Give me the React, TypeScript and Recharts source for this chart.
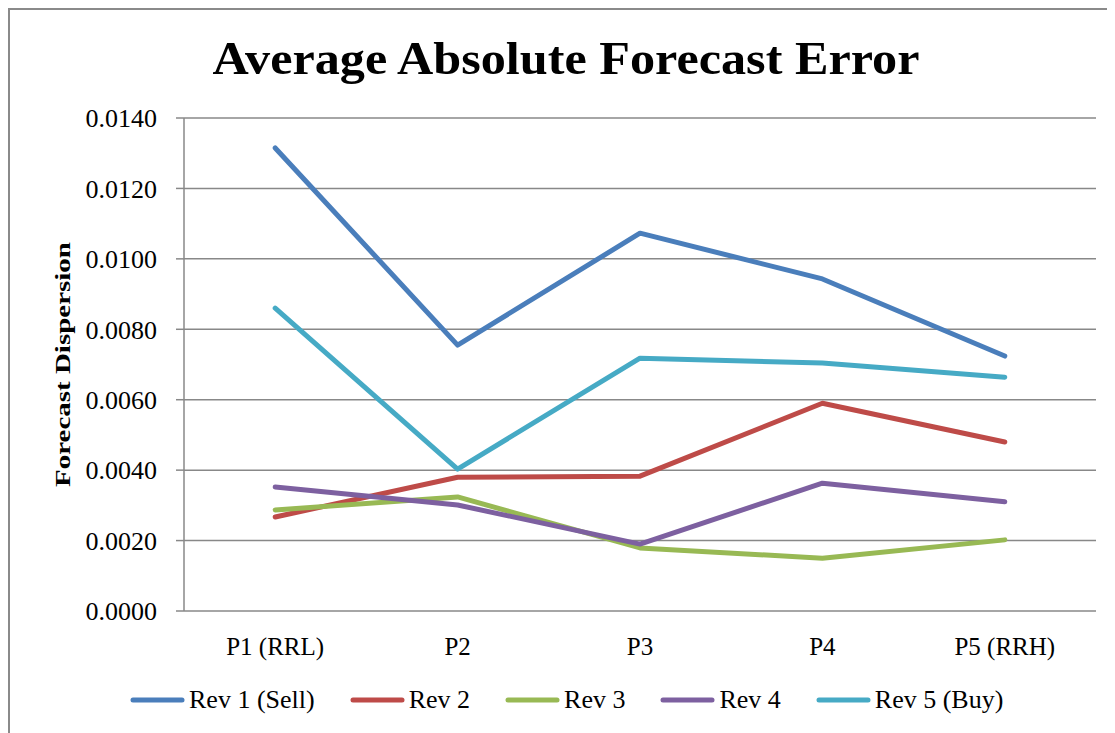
import React from 'react';
import { LineChart, Line, XAxis, YAxis, CartesianGrid, Legend } from 'recharts';

const categories = ['P1 (RRL)', 'P2', 'P3', 'P4', 'P5 (RRH)'];
const rev1 = [0.01315, 0.00755, 0.01073, 0.00943, 0.00724];
const rev2 = [0.00267, 0.0038, 0.00383, 0.0059, 0.0048];
const rev3 = [0.00287, 0.00324, 0.00179, 0.0015, 0.00202];
const rev4 = [0.00352, 0.00301, 0.0019, 0.00363, 0.0031];
const rev5 = [0.0086, 0.00403, 0.00718, 0.00704, 0.00664];
const yTicks = [0, 0.002, 0.004, 0.006, 0.008, 0.01, 0.012, 0.014];
const edgeTicks = [0, 1, 2, 3, 4, 5];

const seriesNames = ['Rev 1 (Sell)', 'Rev 2', 'Rev 3', 'Rev 4', 'Rev 5 (Buy)'];
const seriesValues = [rev1, rev2, rev3, rev4, rev5];
const seriesColors = ['#4A7EBB', '#BE4B48', '#98B954', '#7D60A0', '#46AAC5'];

const data = categories.map((c, i) => {
  const row: Record<string, string | number> = { cat: c };
  seriesNames.forEach((n, s) => {
    row[n] = seriesValues[s][i];
  });
  return row;
});

const FONT = '"Liberation Serif", "Times New Roman", serif';
const GRID = '#888888';

const LegendContent = (props: any) => {
  const payload = props.payload || [];
  return (
    <div style={{ display: 'flex', alignItems: 'center', fontFamily: FONT, fontSize: 26, color: '#000' }}>
      {payload.map((p: any, i: number) => (
        <div key={i} style={{ display: 'flex', alignItems: 'center', marginRight: 35 }}>
          <svg width={55} height={8} style={{ display: 'block' }}>
            <line x1={3} y1={4} x2={52} y2={4} stroke={p.color} strokeWidth={5} strokeLinecap="round" />
          </svg>
          <span style={{ marginLeft: 4, whiteSpace: 'nowrap', lineHeight: '30px' }}>{p.value}</span>
        </div>
      ))}
    </div>
  );
};

const YLabel = (props: any) => {
  const vb = props.viewBox || { x: 0, y: 0, width: 0, height: 0 };
  const cx = 52;
  const cy = vb.y + vb.height / 2;
  return (
    <text
      x={cx}
      y={cy}
      transform={`rotate(-90, ${cx}, ${cy})`}
      textAnchor="middle"
      dominantBaseline="central"
      fontFamily={FONT}
      fontWeight="bold"
      fontSize={22}
      textLength={245}
      lengthAdjust="spacingAndGlyphs"
      fill="#000"
    >
      Forecast Dispersion
    </text>
  );
};

export default function App() {
  return (
    <div
      style={{
        position: 'relative',
        width: 1107,
        height: 725,
        boxSizing: 'border-box',
        borderLeft: '2px solid #8a8a8a',
        borderTop: '2px solid #8a8a8a',
        background: '#fff',
        overflow: 'hidden',
      }}
    >
      <svg width={1105} height={100} style={{ position: 'absolute', left: 0, top: 0 }}>
        <text
          x={556}
          y={64}
          textAnchor="middle"
          fontFamily={FONT}
          fontWeight="bold"
          fontSize={47}
          textLength={707}
          lengthAdjust="spacingAndGlyphs"
          fill="#000"
        >
          Average Absolute Forecast Error
        </text>
      </svg>
      <LineChart width={1105} height={723} data={data} margin={{ top: 108, right: 19, left: 74, bottom: 82 }}>
        <CartesianGrid vertical={false} stroke={GRID} strokeWidth={1.5} />
        <XAxis
          xAxisId="edges"
          type="number"
          domain={[0, 5]}
          allowDataOverflow
          ticks={edgeTicks}
          interval={0}
          tick={false}
          tickSize={8}
          height={0}
          stroke={GRID}
          strokeWidth={1.5}
        />
        <XAxis
          dataKey="cat"
          scale="band"
          interval={0}
          axisLine={false}
          tickLine={false}
          tickSize={0}
          tickMargin={26}
          height={40}
          tick={{ fontFamily: FONT, fontSize: 25, fill: '#000' }}
        />
        <YAxis
          width={100}
          domain={[0, 0.014]}
          ticks={yTicks}
          interval={0}
          tickFormatter={(v: number) => v.toFixed(4)}
          tickSize={8}
          tickMargin={19}
          stroke={GRID}
          strokeWidth={1.5}
          tick={{ fontFamily: FONT, fontSize: 26, fill: '#000' }}
          label={<YLabel />}
        />
        <Legend
          verticalAlign="middle"
          align="center"
          layout="horizontal"
          content={<LegendContent />}
          wrapperStyle={{ left: 120, top: 675, width: 950 }}
        />
        {seriesNames.map((n, s) => (
          <Line
            key={n}
            type="linear"
            dataKey={n}
            name={n}
            stroke={seriesColors[s]}
            strokeWidth={5}
            strokeLinecap="round"
            strokeLinejoin="round"
            dot={false}
            activeDot={false}
            isAnimationActive={false}
          />
        ))}
      </LineChart>
    </div>
  );
}
